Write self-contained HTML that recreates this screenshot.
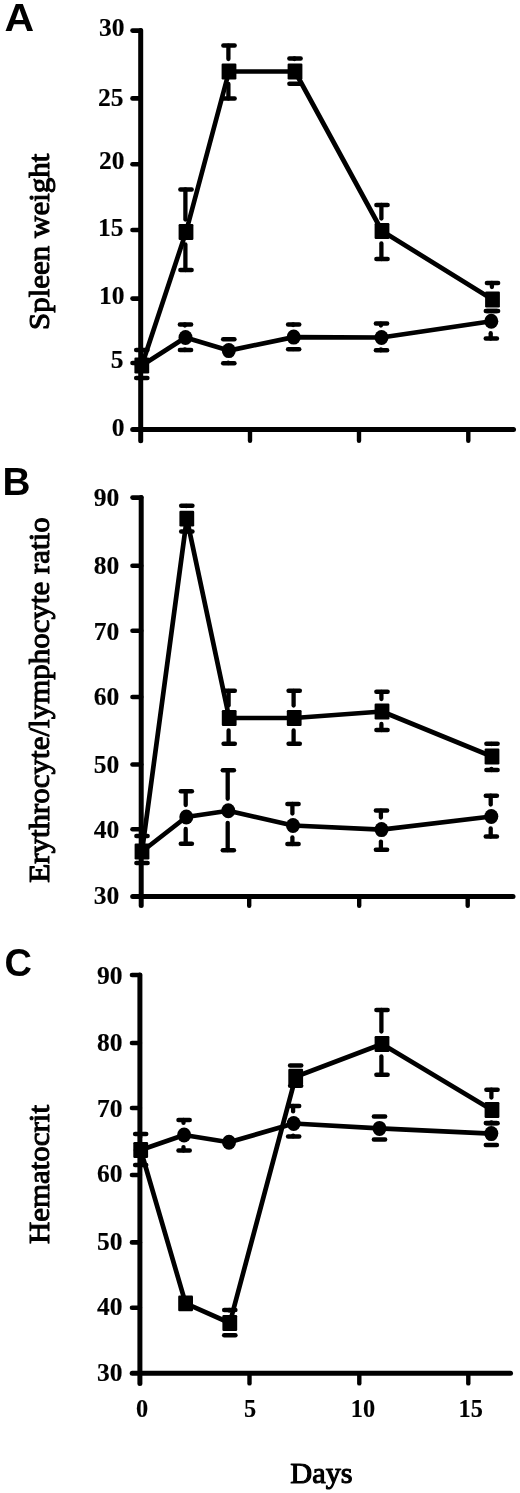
<!DOCTYPE html>
<html>
<head>
<meta charset="utf-8">
<title>Figure</title>
<style>
html, body { margin: 0; padding: 0; background: #fff; }
body { width: 520px; height: 1493px; overflow: hidden; }
svg { display: block; }
svg { filter: grayscale(1); }
.se { font-family: "Liberation Serif", serif; fill: #000; stroke: #000; stroke-width: 0.15px; stroke-linejoin: round; }
.tt { stroke-width: 1.1px; }
.sa { font-family: "Liberation Sans", sans-serif; fill: #000; }
</style>
</head>
<body>
<svg width="520" height="1493" viewBox="0 0 520 1493">
<rect x="0" y="0" width="520" height="1493" fill="#fff"/>
<text transform="translate(4.4,31.3) scale(1.08,1)" font-size="38" font-weight="bold" class="sa">A</text>
<line x1="184.9" y1="325.5" x2="184.9" y2="324.5" stroke="#000" stroke-width="4.3" stroke-linecap="round"/>
<line x1="179.9" y1="324.5" x2="191.1" y2="324.5" stroke="#000" stroke-width="4.5" stroke-linecap="round"/>
<line x1="184.9" y1="349.5" x2="184.9" y2="350.0" stroke="#000" stroke-width="4.3" stroke-linecap="round"/>
<line x1="179.9" y1="350.0" x2="191.1" y2="350.0" stroke="#000" stroke-width="4.5" stroke-linecap="round"/>
<line x1="223.2" y1="339.3" x2="234.4" y2="339.3" stroke="#000" stroke-width="4.5" stroke-linecap="round"/>
<line x1="228.2" y1="362.6" x2="228.2" y2="363.2" stroke="#000" stroke-width="4.3" stroke-linecap="round"/>
<line x1="223.2" y1="363.2" x2="234.4" y2="363.2" stroke="#000" stroke-width="4.5" stroke-linecap="round"/>
<line x1="293.1" y1="325.1" x2="293.1" y2="324.5" stroke="#000" stroke-width="4.3" stroke-linecap="round"/>
<line x1="288.1" y1="324.5" x2="299.2" y2="324.5" stroke="#000" stroke-width="4.5" stroke-linecap="round"/>
<line x1="293.1" y1="349.1" x2="293.1" y2="349.2" stroke="#000" stroke-width="4.3" stroke-linecap="round"/>
<line x1="288.1" y1="349.2" x2="299.2" y2="349.2" stroke="#000" stroke-width="4.5" stroke-linecap="round"/>
<line x1="380.9" y1="325.5" x2="380.9" y2="323.6" stroke="#000" stroke-width="4.3" stroke-linecap="round"/>
<line x1="375.9" y1="323.6" x2="387.1" y2="323.6" stroke="#000" stroke-width="4.5" stroke-linecap="round"/>
<line x1="380.9" y1="349.5" x2="380.9" y2="350.3" stroke="#000" stroke-width="4.3" stroke-linecap="round"/>
<line x1="375.9" y1="350.3" x2="387.1" y2="350.3" stroke="#000" stroke-width="4.5" stroke-linecap="round"/>
<line x1="485.8" y1="311.0" x2="496.9" y2="311.0" stroke="#000" stroke-width="4.5" stroke-linecap="round"/>
<line x1="490.7" y1="333.2" x2="490.7" y2="338.5" stroke="#000" stroke-width="4.3" stroke-linecap="round"/>
<line x1="485.8" y1="338.5" x2="496.9" y2="338.5" stroke="#000" stroke-width="4.5" stroke-linecap="round"/>
<line x1="141.2" y1="353.1" x2="141.2" y2="350.0" stroke="#000" stroke-width="4.3" stroke-linecap="round"/>
<line x1="136.2" y1="350.0" x2="147.4" y2="350.0" stroke="#000" stroke-width="4.5" stroke-linecap="round"/>
<line x1="141.2" y1="377.9" x2="141.2" y2="378.0" stroke="#000" stroke-width="4.3" stroke-linecap="round"/>
<line x1="136.2" y1="378.0" x2="147.4" y2="378.0" stroke="#000" stroke-width="4.5" stroke-linecap="round"/>
<line x1="185.4" y1="219.5" x2="185.4" y2="189.5" stroke="#000" stroke-width="4.3" stroke-linecap="round"/>
<line x1="180.4" y1="189.5" x2="191.6" y2="189.5" stroke="#000" stroke-width="4.5" stroke-linecap="round"/>
<line x1="185.4" y1="244.5" x2="185.4" y2="270.0" stroke="#000" stroke-width="4.3" stroke-linecap="round"/>
<line x1="180.4" y1="270.0" x2="191.6" y2="270.0" stroke="#000" stroke-width="4.5" stroke-linecap="round"/>
<line x1="228.4" y1="59.1" x2="228.4" y2="45.6" stroke="#000" stroke-width="4.3" stroke-linecap="round"/>
<line x1="223.4" y1="45.6" x2="234.6" y2="45.6" stroke="#000" stroke-width="4.5" stroke-linecap="round"/>
<line x1="228.4" y1="84.0" x2="228.4" y2="98.6" stroke="#000" stroke-width="4.3" stroke-linecap="round"/>
<line x1="223.4" y1="98.6" x2="234.6" y2="98.6" stroke="#000" stroke-width="4.5" stroke-linecap="round"/>
<line x1="294.4" y1="59.1" x2="294.4" y2="58.5" stroke="#000" stroke-width="4.3" stroke-linecap="round"/>
<line x1="289.4" y1="58.5" x2="300.6" y2="58.5" stroke="#000" stroke-width="4.5" stroke-linecap="round"/>
<line x1="289.4" y1="83.8" x2="300.6" y2="83.8" stroke="#000" stroke-width="4.5" stroke-linecap="round"/>
<line x1="381.4" y1="218.5" x2="381.4" y2="205.0" stroke="#000" stroke-width="4.3" stroke-linecap="round"/>
<line x1="376.4" y1="205.0" x2="387.6" y2="205.0" stroke="#000" stroke-width="4.5" stroke-linecap="round"/>
<line x1="381.4" y1="243.5" x2="381.4" y2="259.0" stroke="#000" stroke-width="4.3" stroke-linecap="round"/>
<line x1="376.4" y1="259.0" x2="387.6" y2="259.0" stroke="#000" stroke-width="4.5" stroke-linecap="round"/>
<line x1="491.9" y1="287.1" x2="491.9" y2="283.0" stroke="#000" stroke-width="4.3" stroke-linecap="round"/>
<line x1="486.9" y1="283.0" x2="498.1" y2="283.0" stroke="#000" stroke-width="4.5" stroke-linecap="round"/>
<line x1="486.9" y1="311.0" x2="498.1" y2="311.0" stroke="#000" stroke-width="4.5" stroke-linecap="round"/>
<line x1="140.7" y1="30.6" x2="140.7" y2="440.8" stroke="#000" stroke-width="5.0" stroke-linecap="round"/>
<line x1="132.7" y1="429.6" x2="513.5" y2="429.6" stroke="#000" stroke-width="5.0" stroke-linecap="round"/>
<line x1="132.5" y1="30.6" x2="140.7" y2="30.6" stroke="#000" stroke-width="4.6000000000000005" stroke-linecap="round"/>
<line x1="132.5" y1="98.4" x2="140.7" y2="98.4" stroke="#000" stroke-width="4.6000000000000005" stroke-linecap="round"/>
<line x1="132.5" y1="164.3" x2="140.7" y2="164.3" stroke="#000" stroke-width="4.6000000000000005" stroke-linecap="round"/>
<line x1="132.5" y1="230.0" x2="140.7" y2="230.0" stroke="#000" stroke-width="4.6000000000000005" stroke-linecap="round"/>
<line x1="132.5" y1="298.6" x2="140.7" y2="298.6" stroke="#000" stroke-width="4.6000000000000005" stroke-linecap="round"/>
<line x1="132.5" y1="363.0" x2="140.7" y2="363.0" stroke="#000" stroke-width="4.6000000000000005" stroke-linecap="round"/>
<line x1="250.0" y1="429.6" x2="250.0" y2="440.8" stroke="#000" stroke-width="4.4" stroke-linecap="round"/>
<line x1="359.0" y1="429.6" x2="359.0" y2="440.8" stroke="#000" stroke-width="4.4" stroke-linecap="round"/>
<line x1="468.3" y1="429.6" x2="468.3" y2="440.8" stroke="#000" stroke-width="4.4" stroke-linecap="round"/>
<text x="124.5" y="36.2" text-anchor="end" font-size="25.5" font-weight="bold" class="se">30</text>
<text x="123.5" y="105.8" text-anchor="end" font-size="25.5" font-weight="bold" class="se">25</text>
<text x="124.5" y="169.4" text-anchor="end" font-size="25.5" font-weight="bold" class="se">20</text>
<text x="123.5" y="235.6" text-anchor="end" font-size="25.5" font-weight="bold" class="se">15</text>
<text x="124.5" y="304.2" text-anchor="end" font-size="25.5" font-weight="bold" class="se">10</text>
<text x="123.5" y="368.2" text-anchor="end" font-size="25.5" font-weight="bold" class="se">5</text>
<text x="124.5" y="435.8" text-anchor="end" font-size="25.5" font-weight="bold" class="se">0</text>
<polyline points="141.8,365.5 185.5,337.5 228.8,350.6 293.7,337.1 381.5,337.5 491.3,321.2" fill="none" stroke="#000" stroke-width="4.7" stroke-linejoin="round" stroke-linecap="round"/>
<polyline points="141.8,365.5 186.0,232.0 229.0,71.5 295.0,71.5 382.0,231.0 492.5,299.5" fill="none" stroke="#000" stroke-width="4.7" stroke-linejoin="round" stroke-linecap="round"/>
<ellipse cx="141.8" cy="365.5" rx="7.0" ry="7.5" fill="#000"/>
<ellipse cx="185.5" cy="337.5" rx="7.0" ry="7.5" fill="#000"/>
<ellipse cx="228.8" cy="350.6" rx="7.0" ry="7.5" fill="#000"/>
<ellipse cx="293.7" cy="337.1" rx="7.0" ry="7.5" fill="#000"/>
<ellipse cx="381.5" cy="337.5" rx="7.0" ry="7.5" fill="#000"/>
<ellipse cx="491.3" cy="321.2" rx="7.0" ry="7.5" fill="#000"/>
<rect x="134.4" y="357.6" width="14.8" height="15.8" rx="1.2" fill="#000"/>
<rect x="178.6" y="224.1" width="14.8" height="15.8" rx="1.2" fill="#000"/>
<rect x="221.6" y="63.6" width="14.8" height="15.8" rx="1.2" fill="#000"/>
<rect x="287.6" y="63.6" width="14.8" height="15.8" rx="1.2" fill="#000"/>
<rect x="374.6" y="223.1" width="14.8" height="15.8" rx="1.2" fill="#000"/>
<rect x="485.1" y="291.6" width="14.8" height="15.8" rx="1.2" fill="#000"/>
<text transform="translate(49.3,241.8) rotate(-90) scale(1,0.97)" text-anchor="middle" font-size="31.0" class="se tt">Spleen weight</text>
<text transform="translate(2.6,495.0) scale(1.02,1)" font-size="38" font-weight="bold" class="sa">B</text>
<line x1="185.7" y1="805.0" x2="185.7" y2="791.3" stroke="#000" stroke-width="4.3" stroke-linecap="round"/>
<line x1="180.8" y1="791.3" x2="191.9" y2="791.3" stroke="#000" stroke-width="4.5" stroke-linecap="round"/>
<line x1="185.7" y1="829.0" x2="185.7" y2="843.8" stroke="#000" stroke-width="4.3" stroke-linecap="round"/>
<line x1="180.8" y1="843.8" x2="191.9" y2="843.8" stroke="#000" stroke-width="4.5" stroke-linecap="round"/>
<line x1="227.7" y1="798.8" x2="227.7" y2="770.2" stroke="#000" stroke-width="4.3" stroke-linecap="round"/>
<line x1="222.8" y1="770.2" x2="233.9" y2="770.2" stroke="#000" stroke-width="4.5" stroke-linecap="round"/>
<line x1="227.7" y1="822.8" x2="227.7" y2="850.2" stroke="#000" stroke-width="4.3" stroke-linecap="round"/>
<line x1="222.8" y1="850.2" x2="233.9" y2="850.2" stroke="#000" stroke-width="4.5" stroke-linecap="round"/>
<line x1="292.4" y1="813.5" x2="292.4" y2="804.0" stroke="#000" stroke-width="4.3" stroke-linecap="round"/>
<line x1="287.4" y1="804.0" x2="298.6" y2="804.0" stroke="#000" stroke-width="4.5" stroke-linecap="round"/>
<line x1="292.4" y1="837.5" x2="292.4" y2="844.0" stroke="#000" stroke-width="4.3" stroke-linecap="round"/>
<line x1="287.4" y1="844.0" x2="298.6" y2="844.0" stroke="#000" stroke-width="4.5" stroke-linecap="round"/>
<line x1="380.9" y1="817.6" x2="380.9" y2="810.6" stroke="#000" stroke-width="4.3" stroke-linecap="round"/>
<line x1="375.9" y1="810.6" x2="387.1" y2="810.6" stroke="#000" stroke-width="4.5" stroke-linecap="round"/>
<line x1="380.9" y1="841.6" x2="380.9" y2="849.7" stroke="#000" stroke-width="4.3" stroke-linecap="round"/>
<line x1="375.9" y1="849.7" x2="387.1" y2="849.7" stroke="#000" stroke-width="4.5" stroke-linecap="round"/>
<line x1="490.7" y1="804.5" x2="490.7" y2="795.7" stroke="#000" stroke-width="4.3" stroke-linecap="round"/>
<line x1="485.8" y1="795.7" x2="496.9" y2="795.7" stroke="#000" stroke-width="4.5" stroke-linecap="round"/>
<line x1="490.7" y1="828.5" x2="490.7" y2="836.5" stroke="#000" stroke-width="4.3" stroke-linecap="round"/>
<line x1="485.8" y1="836.5" x2="496.9" y2="836.5" stroke="#000" stroke-width="4.5" stroke-linecap="round"/>
<line x1="141.4" y1="839.1" x2="141.4" y2="836.0" stroke="#000" stroke-width="4.3" stroke-linecap="round"/>
<line x1="136.4" y1="836.0" x2="147.6" y2="836.0" stroke="#000" stroke-width="4.5" stroke-linecap="round"/>
<line x1="136.4" y1="863.0" x2="147.6" y2="863.0" stroke="#000" stroke-width="4.5" stroke-linecap="round"/>
<line x1="186.2" y1="506.2" x2="186.2" y2="505.8" stroke="#000" stroke-width="4.3" stroke-linecap="round"/>
<line x1="181.2" y1="505.8" x2="192.4" y2="505.8" stroke="#000" stroke-width="4.5" stroke-linecap="round"/>
<line x1="186.2" y1="531.0" x2="186.2" y2="531.5" stroke="#000" stroke-width="4.3" stroke-linecap="round"/>
<line x1="181.2" y1="531.5" x2="192.4" y2="531.5" stroke="#000" stroke-width="4.5" stroke-linecap="round"/>
<line x1="228.6" y1="705.6" x2="228.6" y2="690.8" stroke="#000" stroke-width="4.3" stroke-linecap="round"/>
<line x1="223.6" y1="690.8" x2="234.8" y2="690.8" stroke="#000" stroke-width="4.5" stroke-linecap="round"/>
<line x1="228.6" y1="730.4" x2="228.6" y2="743.7" stroke="#000" stroke-width="4.3" stroke-linecap="round"/>
<line x1="223.6" y1="743.7" x2="234.8" y2="743.7" stroke="#000" stroke-width="4.5" stroke-linecap="round"/>
<line x1="293.6" y1="705.6" x2="293.6" y2="690.8" stroke="#000" stroke-width="4.3" stroke-linecap="round"/>
<line x1="288.6" y1="690.8" x2="299.8" y2="690.8" stroke="#000" stroke-width="4.5" stroke-linecap="round"/>
<line x1="293.6" y1="730.4" x2="293.6" y2="743.7" stroke="#000" stroke-width="4.3" stroke-linecap="round"/>
<line x1="288.6" y1="743.7" x2="299.8" y2="743.7" stroke="#000" stroke-width="4.5" stroke-linecap="round"/>
<line x1="381.4" y1="699.1" x2="381.4" y2="691.8" stroke="#000" stroke-width="4.3" stroke-linecap="round"/>
<line x1="376.4" y1="691.8" x2="387.6" y2="691.8" stroke="#000" stroke-width="4.5" stroke-linecap="round"/>
<line x1="381.4" y1="723.9" x2="381.4" y2="730.0" stroke="#000" stroke-width="4.3" stroke-linecap="round"/>
<line x1="376.4" y1="730.0" x2="387.6" y2="730.0" stroke="#000" stroke-width="4.5" stroke-linecap="round"/>
<line x1="491.4" y1="744.1" x2="491.4" y2="743.8" stroke="#000" stroke-width="4.3" stroke-linecap="round"/>
<line x1="486.4" y1="743.8" x2="497.6" y2="743.8" stroke="#000" stroke-width="4.5" stroke-linecap="round"/>
<line x1="491.4" y1="768.9" x2="491.4" y2="770.0" stroke="#000" stroke-width="4.3" stroke-linecap="round"/>
<line x1="486.4" y1="770.0" x2="497.6" y2="770.0" stroke="#000" stroke-width="4.5" stroke-linecap="round"/>
<line x1="141.2" y1="497.5" x2="141.2" y2="905.5" stroke="#000" stroke-width="5.0" stroke-linecap="round"/>
<line x1="132.7" y1="896.5" x2="513.0" y2="896.5" stroke="#000" stroke-width="5.0" stroke-linecap="round"/>
<line x1="132.5" y1="497.6" x2="141.2" y2="497.6" stroke="#000" stroke-width="4.6000000000000005" stroke-linecap="round"/>
<line x1="132.5" y1="565.8" x2="141.2" y2="565.8" stroke="#000" stroke-width="4.6000000000000005" stroke-linecap="round"/>
<line x1="132.5" y1="630.8" x2="141.2" y2="630.8" stroke="#000" stroke-width="4.6000000000000005" stroke-linecap="round"/>
<line x1="132.5" y1="697.0" x2="141.2" y2="697.0" stroke="#000" stroke-width="4.6000000000000005" stroke-linecap="round"/>
<line x1="132.5" y1="764.5" x2="141.2" y2="764.5" stroke="#000" stroke-width="4.6000000000000005" stroke-linecap="round"/>
<line x1="132.5" y1="829.3" x2="141.2" y2="829.3" stroke="#000" stroke-width="4.6000000000000005" stroke-linecap="round"/>
<line x1="249.2" y1="896.5" x2="249.2" y2="905.8" stroke="#000" stroke-width="4.4" stroke-linecap="round"/>
<line x1="359.2" y1="896.5" x2="359.2" y2="905.8" stroke="#000" stroke-width="4.4" stroke-linecap="round"/>
<line x1="467.7" y1="896.5" x2="467.7" y2="905.8" stroke="#000" stroke-width="4.4" stroke-linecap="round"/>
<text x="119.2" y="506.3" text-anchor="end" font-size="25.5" font-weight="bold" class="se">90</text>
<text x="119.2" y="573.6" text-anchor="end" font-size="25.5" font-weight="bold" class="se">80</text>
<text x="119.2" y="639.5" text-anchor="end" font-size="25.5" font-weight="bold" class="se">70</text>
<text x="119.2" y="704.9" text-anchor="end" font-size="25.5" font-weight="bold" class="se">60</text>
<text x="119.2" y="772.9" text-anchor="end" font-size="25.5" font-weight="bold" class="se">50</text>
<text x="119.2" y="838.4" text-anchor="end" font-size="25.5" font-weight="bold" class="se">40</text>
<text x="119.2" y="904.2" text-anchor="end" font-size="25.5" font-weight="bold" class="se">30</text>
<polyline points="142.0,851.5 186.3,817.0 228.3,810.8 293.0,825.5 381.5,829.6 491.3,816.5" fill="none" stroke="#000" stroke-width="4.7" stroke-linejoin="round" stroke-linecap="round"/>
<polyline points="142.0,851.5 186.8,518.6 229.2,718.0 294.2,718.0 382.0,711.5 492.0,756.5" fill="none" stroke="#000" stroke-width="4.7" stroke-linejoin="round" stroke-linecap="round"/>
<ellipse cx="142.0" cy="851.5" rx="7.0" ry="7.5" fill="#000"/>
<ellipse cx="186.3" cy="817.0" rx="7.0" ry="7.5" fill="#000"/>
<ellipse cx="228.3" cy="810.8" rx="7.0" ry="7.5" fill="#000"/>
<ellipse cx="293.0" cy="825.5" rx="7.0" ry="7.5" fill="#000"/>
<ellipse cx="381.5" cy="829.6" rx="7.0" ry="7.5" fill="#000"/>
<ellipse cx="491.3" cy="816.5" rx="7.0" ry="7.5" fill="#000"/>
<rect x="134.6" y="843.6" width="14.8" height="15.8" rx="1.2" fill="#000"/>
<rect x="179.4" y="510.7" width="14.8" height="15.8" rx="1.2" fill="#000"/>
<rect x="221.8" y="710.1" width="14.8" height="15.8" rx="1.2" fill="#000"/>
<rect x="286.8" y="710.1" width="14.8" height="15.8" rx="1.2" fill="#000"/>
<rect x="374.6" y="703.6" width="14.8" height="15.8" rx="1.2" fill="#000"/>
<rect x="484.6" y="748.6" width="14.8" height="15.8" rx="1.2" fill="#000"/>
<text transform="translate(48.8,700.0) rotate(-90) scale(1,0.97)" text-anchor="middle" font-size="31.0" class="se tt">Erythrocyte/lymphocyte ratio</text>
<text transform="translate(4.5,976.3) scale(1.0,1)" font-size="38" font-weight="bold" class="sa">C</text>
<line x1="183.5" y1="1122.9" x2="183.5" y2="1120.0" stroke="#000" stroke-width="4.3" stroke-linecap="round"/>
<line x1="178.5" y1="1120.0" x2="189.7" y2="1120.0" stroke="#000" stroke-width="4.5" stroke-linecap="round"/>
<line x1="183.5" y1="1147.1" x2="183.5" y2="1150.5" stroke="#000" stroke-width="4.3" stroke-linecap="round"/>
<line x1="178.5" y1="1150.5" x2="189.7" y2="1150.5" stroke="#000" stroke-width="4.5" stroke-linecap="round"/>
<line x1="293.1" y1="1111.4" x2="293.1" y2="1106.0" stroke="#000" stroke-width="4.3" stroke-linecap="round"/>
<line x1="288.1" y1="1106.0" x2="299.2" y2="1106.0" stroke="#000" stroke-width="4.5" stroke-linecap="round"/>
<line x1="293.1" y1="1135.6" x2="293.1" y2="1136.4" stroke="#000" stroke-width="4.3" stroke-linecap="round"/>
<line x1="288.1" y1="1136.4" x2="299.2" y2="1136.4" stroke="#000" stroke-width="4.5" stroke-linecap="round"/>
<line x1="373.9" y1="1116.5" x2="385.1" y2="1116.5" stroke="#000" stroke-width="4.5" stroke-linecap="round"/>
<line x1="373.9" y1="1139.5" x2="385.1" y2="1139.5" stroke="#000" stroke-width="4.5" stroke-linecap="round"/>
<line x1="485.8" y1="1123.0" x2="496.9" y2="1123.0" stroke="#000" stroke-width="4.5" stroke-linecap="round"/>
<line x1="485.8" y1="1145.0" x2="496.9" y2="1145.0" stroke="#000" stroke-width="4.5" stroke-linecap="round"/>
<line x1="140.1" y1="1137.5" x2="140.1" y2="1134.0" stroke="#000" stroke-width="4.3" stroke-linecap="round"/>
<line x1="135.1" y1="1134.0" x2="146.2" y2="1134.0" stroke="#000" stroke-width="4.5" stroke-linecap="round"/>
<line x1="140.1" y1="1162.5" x2="140.1" y2="1165.0" stroke="#000" stroke-width="4.3" stroke-linecap="round"/>
<line x1="135.1" y1="1165.0" x2="146.2" y2="1165.0" stroke="#000" stroke-width="4.5" stroke-linecap="round"/>
<line x1="229.2" y1="1310.5" x2="229.2" y2="1310.0" stroke="#000" stroke-width="4.3" stroke-linecap="round"/>
<line x1="224.2" y1="1310.0" x2="235.4" y2="1310.0" stroke="#000" stroke-width="4.5" stroke-linecap="round"/>
<line x1="224.2" y1="1335.3" x2="235.4" y2="1335.3" stroke="#000" stroke-width="4.5" stroke-linecap="round"/>
<line x1="290.1" y1="1065.6" x2="301.2" y2="1065.6" stroke="#000" stroke-width="4.5" stroke-linecap="round"/>
<line x1="290.1" y1="1085.8" x2="301.2" y2="1085.8" stroke="#000" stroke-width="4.5" stroke-linecap="round"/>
<line x1="381.4" y1="1031.5" x2="381.4" y2="1010.0" stroke="#000" stroke-width="4.3" stroke-linecap="round"/>
<line x1="376.4" y1="1010.0" x2="387.6" y2="1010.0" stroke="#000" stroke-width="4.5" stroke-linecap="round"/>
<line x1="381.4" y1="1056.5" x2="381.4" y2="1074.8" stroke="#000" stroke-width="4.3" stroke-linecap="round"/>
<line x1="376.4" y1="1074.8" x2="387.6" y2="1074.8" stroke="#000" stroke-width="4.5" stroke-linecap="round"/>
<line x1="491.4" y1="1097.5" x2="491.4" y2="1089.7" stroke="#000" stroke-width="4.3" stroke-linecap="round"/>
<line x1="486.4" y1="1089.7" x2="497.6" y2="1089.7" stroke="#000" stroke-width="4.5" stroke-linecap="round"/>
<line x1="491.4" y1="1122.5" x2="491.4" y2="1123.3" stroke="#000" stroke-width="4.3" stroke-linecap="round"/>
<line x1="486.4" y1="1123.3" x2="497.6" y2="1123.3" stroke="#000" stroke-width="4.5" stroke-linecap="round"/>
<line x1="139.9" y1="975.0" x2="139.9" y2="1383.5" stroke="#000" stroke-width="5.0" stroke-linecap="round"/>
<line x1="132.2" y1="1373.2" x2="510.5" y2="1373.2" stroke="#000" stroke-width="5.0" stroke-linecap="round"/>
<line x1="132.0" y1="975.0" x2="139.9" y2="975.0" stroke="#000" stroke-width="4.6000000000000005" stroke-linecap="round"/>
<line x1="132.0" y1="1043.0" x2="139.9" y2="1043.0" stroke="#000" stroke-width="4.6000000000000005" stroke-linecap="round"/>
<line x1="132.0" y1="1108.0" x2="139.9" y2="1108.0" stroke="#000" stroke-width="4.6000000000000005" stroke-linecap="round"/>
<line x1="132.0" y1="1175.0" x2="139.9" y2="1175.0" stroke="#000" stroke-width="4.6000000000000005" stroke-linecap="round"/>
<line x1="132.0" y1="1242.4" x2="139.9" y2="1242.4" stroke="#000" stroke-width="4.6000000000000005" stroke-linecap="round"/>
<line x1="132.0" y1="1307.8" x2="139.9" y2="1307.8" stroke="#000" stroke-width="4.6000000000000005" stroke-linecap="round"/>
<line x1="249.5" y1="1373.2" x2="249.5" y2="1383.4" stroke="#000" stroke-width="4.4" stroke-linecap="round"/>
<line x1="359.3" y1="1373.2" x2="359.3" y2="1383.4" stroke="#000" stroke-width="4.4" stroke-linecap="round"/>
<line x1="468.3" y1="1373.2" x2="468.3" y2="1383.4" stroke="#000" stroke-width="4.4" stroke-linecap="round"/>
<text x="122.5" y="983.7" text-anchor="end" font-size="25.5" font-weight="bold" class="se">90</text>
<text x="122.5" y="1051.2" text-anchor="end" font-size="25.5" font-weight="bold" class="se">80</text>
<text x="122.5" y="1116.9" text-anchor="end" font-size="25.5" font-weight="bold" class="se">70</text>
<text x="122.5" y="1182.1" text-anchor="end" font-size="25.5" font-weight="bold" class="se">60</text>
<text x="122.5" y="1249.9" text-anchor="end" font-size="25.5" font-weight="bold" class="se">50</text>
<text x="122.5" y="1314.9" text-anchor="end" font-size="25.5" font-weight="bold" class="se">40</text>
<text x="122.5" y="1381.0" text-anchor="end" font-size="25.5" font-weight="bold" class="se">30</text>
<polyline points="140.7,1150.0 184.1,1135.0 229.0,1142.3 293.7,1123.5 379.5,1128.4 491.3,1133.6" fill="none" stroke="#000" stroke-width="4.7" stroke-linejoin="round" stroke-linecap="round"/>
<polyline points="140.7,1150.0 185.6,1303.4 229.8,1323.0 295.7,1076.7 382.0,1044.0 492.0,1110.0" fill="none" stroke="#000" stroke-width="4.7" stroke-linejoin="round" stroke-linecap="round"/>
<ellipse cx="140.7" cy="1150.0" rx="7.0" ry="7.5" fill="#000"/>
<ellipse cx="184.1" cy="1135.0" rx="7.0" ry="7.5" fill="#000"/>
<ellipse cx="229.0" cy="1142.3" rx="7.0" ry="7.5" fill="#000"/>
<ellipse cx="293.7" cy="1123.5" rx="7.0" ry="7.5" fill="#000"/>
<ellipse cx="379.5" cy="1128.4" rx="7.0" ry="7.5" fill="#000"/>
<ellipse cx="491.3" cy="1133.6" rx="7.0" ry="7.5" fill="#000"/>
<rect x="133.3" y="1142.1" width="14.8" height="15.8" rx="1.2" fill="#000"/>
<rect x="178.2" y="1295.5" width="14.8" height="15.8" rx="1.2" fill="#000"/>
<rect x="222.4" y="1315.1" width="14.8" height="15.8" rx="1.2" fill="#000"/>
<rect x="288.3" y="1068.8" width="14.8" height="15.8" rx="1.2" fill="#000"/>
<rect x="374.6" y="1036.1" width="14.8" height="15.8" rx="1.2" fill="#000"/>
<rect x="484.6" y="1102.1" width="14.8" height="15.8" rx="1.2" fill="#000"/>
<text transform="translate(48.6,1174.5) rotate(-90) scale(1,0.97)" text-anchor="middle" font-size="30.9" class="se tt">Hematocrit</text>
<text x="142.0" y="1416.8" text-anchor="middle" font-size="24.3" font-weight="bold" class="se">0</text>
<text x="250.0" y="1416.8" text-anchor="middle" font-size="24.3" font-weight="bold" class="se">5</text>
<text x="363.0" y="1416.8" text-anchor="middle" font-size="24.3" font-weight="bold" class="se">10</text>
<text x="470.7" y="1416.8" text-anchor="middle" font-size="24.3" font-weight="bold" class="se">15</text>
<text x="321.5" y="1482.7" text-anchor="middle" font-size="30.3" class="se tt">Days</text>
</svg>
</body>
</html>
